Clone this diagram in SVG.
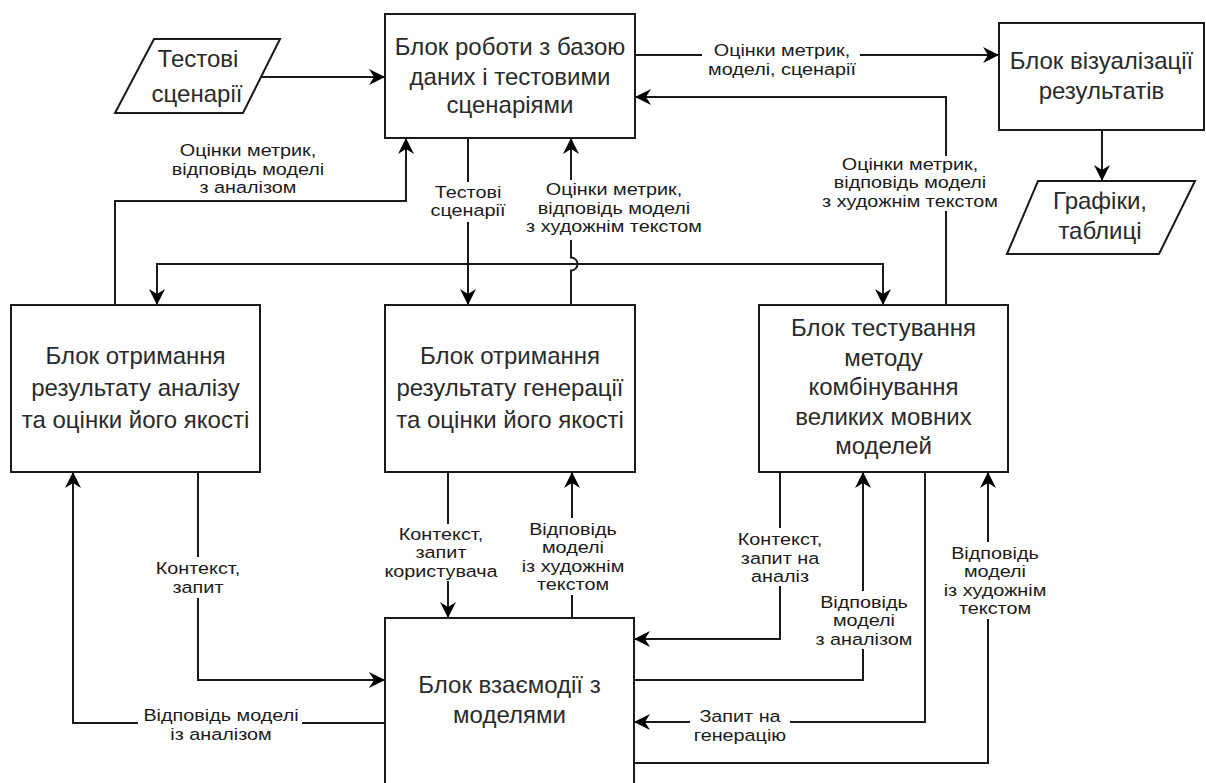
<svg xmlns="http://www.w3.org/2000/svg" width="1206" height="783" viewBox="0 0 1206 783">
<defs>
<style>
.box{fill:#fff;stroke:#1a1a1a;stroke-width:2}
.bt{font-family:"Liberation Sans",Arial,sans-serif;font-size:24px;fill:#2a2a2a;text-anchor:middle}
.lb{font-family:"Liberation Sans",Arial,sans-serif;font-size:16.5px;fill:#1a1a1a;text-anchor:middle}
.ln{fill:none;stroke:#1a1a1a;stroke-width:2}
.bg{fill:#fff}
</style>
<marker id="arr" viewBox="-17 -9 18 18" refX="0" refY="0" markerWidth="18" markerHeight="18" markerUnits="userSpaceOnUse" orient="auto">
<path d="M0,0 L-16,-8 L-11,0 L-16,8 Z" fill="#000"/>
</marker>
</defs>
<rect width="1206" height="783" fill="#fff"/>

<g id="connectors">
<path class="ln" d="M261,77 H385" marker-end="url(#arr)"/>
<path class="ln" d="M635,55 H999" marker-end="url(#arr)"/>
<path class="ln" d="M946,305 V97 H635" marker-end="url(#arr)"/>
<path class="ln" d="M1102,130 V181" marker-end="url(#arr)"/>
<path class="ln" d="M115,305 V201 H406 V138" marker-end="url(#arr)"/>
<path class="ln" d="M468,138 V305" marker-end="url(#arr)"/>
<path class="ln" d="M468,264 H157 V305" marker-end="url(#arr)"/>
<path class="ln" d="M468,264 H883 V305" marker-end="url(#arr)"/>
<path class="ln" d="M571,305 V270.5 A6.5,6.5 0 0 0 571,257.5 V138" marker-end="url(#arr)"/>
<path class="ln" d="M448,472 V618" marker-end="url(#arr)"/>
<path class="ln" d="M572,618 V472" marker-end="url(#arr)"/>
<path class="ln" d="M198,472 V680 H385" marker-end="url(#arr)"/>
<path class="ln" d="M385,723 H73 V472" marker-end="url(#arr)"/>
<path class="ln" d="M780,472 V639 H634" marker-end="url(#arr)"/>
<path class="ln" d="M634,680 H863 V472" marker-end="url(#arr)"/>
<path class="ln" d="M925,472 V722 H634" marker-end="url(#arr)"/>
<path class="ln" d="M634,763 H988 V472" marker-end="url(#arr)"/>
</g>

<g id="labels">
<rect class="bg" x="702" y="41" width="158" height="39"/>
<g transform="translate(782,0) scale(1.2,1)">
<text class="lb" x="0" y="56">Оцінки метрик,</text>
<text class="lb" x="0" y="75">моделі, сценарії</text>
</g>

<g transform="translate(248,0) scale(1.2,1)">
<text class="lb" x="0" y="156.5">Оцінки метрик,</text>
<text class="lb" x="0" y="175">відповідь моделі</text>
<text class="lb" x="0" y="193.5">з аналізом</text>
</g>

<rect class="bg" x="436" y="182" width="64" height="40"/>
<g transform="translate(468,0) scale(1.2,1)">
<text class="lb" x="0" y="198">Тестові</text>
<text class="lb" x="0" y="216">сценарії</text>
</g>

<rect class="bg" x="527" y="180" width="176" height="60"/>
<g transform="translate(614,0) scale(1.2,1)">
<text class="lb" x="0" y="195.5">Оцінки метрик,</text>
<text class="lb" x="0" y="214">відповідь моделі</text>
<text class="lb" x="0" y="232.5">з художнім текстом</text>
</g>

<rect class="bg" x="834" y="156" width="152" height="55"/>
<g transform="translate(910,0) scale(1.2,1)">
<text class="lb" x="0" y="170">Оцінки метрик,</text>
<text class="lb" x="0" y="188.5">відповідь моделі</text>
<text class="lb" x="0" y="207">з художнім текстом</text>
</g>

<rect class="bg" x="158" y="557" width="80" height="41"/>
<g transform="translate(198,0) scale(1.2,1)">
<text class="lb" x="0" y="574">Контекст,</text>
<text class="lb" x="0" y="593">запит</text>
</g>

<rect class="bg" x="138" y="705" width="164" height="39"/>
<g transform="translate(221,0) scale(1.2,1)">
<text class="lb" x="0" y="721">Відповідь моделі</text>
<text class="lb" x="0" y="740">із аналізом</text>
</g>

<rect class="bg" x="398" y="524" width="86" height="57"/>
<g transform="translate(441,0) scale(1.2,1)">
<text class="lb" x="0" y="540">Контекст,</text>
<text class="lb" x="0" y="558.5">запит</text>
<text class="lb" x="0" y="577">користувача</text>
</g>

<rect class="bg" x="528" y="518" width="90" height="77"/>
<g transform="translate(573,0) scale(1.2,1)">
<text class="lb" x="0" y="535">Відповідь</text>
<text class="lb" x="0" y="553.5">моделі</text>
<text class="lb" x="0" y="572">із художнім</text>
<text class="lb" x="0" y="590.5">текстом</text>
</g>

<rect class="bg" x="741" y="528" width="78" height="58"/>
<g transform="translate(780,0) scale(1.2,1)">
<text class="lb" x="0" y="545.5">Контекст,</text>
<text class="lb" x="0" y="564">запит на</text>
<text class="lb" x="0" y="582.5">аналіз</text>
</g>

<rect class="bg" x="817" y="591" width="94" height="58"/>
<g transform="translate(864,0) scale(1.2,1)">
<text class="lb" x="0" y="608">Відповідь</text>
<text class="lb" x="0" y="626.5">моделі</text>
<text class="lb" x="0" y="645">з аналізом</text>
</g>

<rect class="bg" x="690" y="705" width="100" height="41"/>
<g transform="translate(740,0) scale(1.2,1)">
<text class="lb" x="0" y="722">Запит на</text>
<text class="lb" x="0" y="741.5">генерацію</text>
</g>

<rect class="bg" x="950" y="542" width="90" height="77"/>
<g transform="translate(995,0) scale(1.2,1)">
<text class="lb" x="0" y="559">Відповідь</text>
<text class="lb" x="0" y="577.5">моделі</text>
<text class="lb" x="0" y="596">із художнім</text>
<text class="lb" x="0" y="614.5">текстом</text>
</g>
</g>

<g id="node-test-scenarios">
<polygon class="box" points="154,39 280,39 243,113 115,113"/>
<text class="bt" x="198" y="67">Тестові</text>
<text class="bt" x="197" y="102">сценарії</text>
</g>

<g id="node-db">
<rect class="box" x="385" y="14" width="250" height="124"/>
<text class="bt" x="510" y="55">Блок роботи з базою</text>
<text class="bt" x="510" y="85">даних і тестовими</text>
<text class="bt" x="510" y="113">сценаріями</text>
</g>

<g id="node-viz">
<rect class="box" x="999" y="23" width="205" height="107"/>
<text class="bt" x="1101.5" y="69">Блок візуалізації</text>
<text class="bt" x="1101.5" y="99">результатів</text>
</g>

<g id="node-charts">
<polygon class="box" points="1038,181 1195,181 1159,254 1007,254"/>
<text class="bt" x="1100" y="209">Графіки,</text>
<text class="bt" x="1100" y="239">таблиці</text>
</g>

<g id="node-analysis">
<rect class="box" x="11" y="305" width="249" height="167"/>
<text class="bt" x="135.5" y="364">Блок отримання</text>
<text class="bt" x="135.5" y="396">результату аналізу</text>
<text class="bt" x="135.5" y="428">та оцінки його якості</text>
</g>

<g id="node-generation">
<rect class="box" x="385" y="305" width="250" height="167"/>
<text class="bt" x="510" y="364">Блок отримання</text>
<text class="bt" x="510" y="396">результату генерації</text>
<text class="bt" x="510" y="428">та оцінки його якості</text>
</g>

<g id="node-testing">
<rect class="box" x="759" y="305" width="249" height="167"/>
<text class="bt" x="883.5" y="336">Блок тестування</text>
<text class="bt" x="883.5" y="365.5">методу</text>
<text class="bt" x="883.5" y="395">комбінування</text>
<text class="bt" x="883.5" y="424.5">великих мовних</text>
<text class="bt" x="883.5" y="454">моделей</text>
</g>

<g id="node-models">
<rect class="box" x="385" y="618" width="249" height="200"/>
<text class="bt" x="509.5" y="693">Блок взаємодії з</text>
<text class="bt" x="509.5" y="723">моделями</text>
</g>
</svg>
